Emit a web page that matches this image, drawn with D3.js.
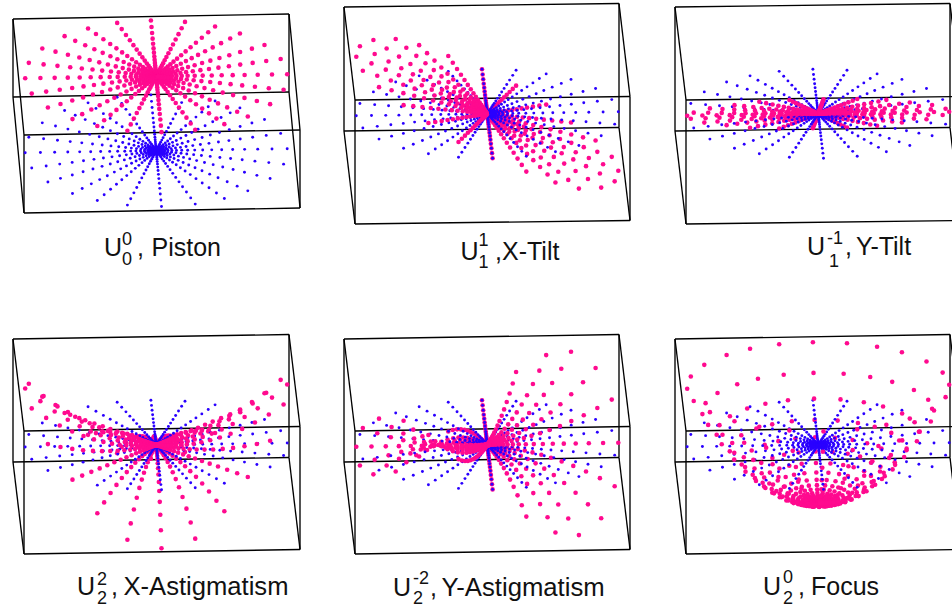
<!DOCTYPE html>
<html>
<head>
<meta charset="utf-8">
<script src="https://d3js.org/d3.v7.min.js"></script>
<style>
html, body { margin: 0; padding: 0; background: #fff; }
svg { display: block; }
text { font-family: "Liberation Sans", Arial, sans-serif; fill: #111; }
</style>
</head>
<body>
<div id="chart"></div>
<script>
// spokes of the polar grid, degrees from +x, as measured off the blue dots
var spokeAngles = [0, 16, 32, 48, 61, 75, 90, 105, 119, 132, 148, 164, 180, 196, 212, 228, 241, 255, 270, 285, 299, 312, 328, 344];
// ring radii, as measured along the horizontal spoke
var ringRadii = [1, 0.884, 0.775, 0.675, 0.584, 0.5, 0.424, 0.355, 0.294, 0.24, 0.195, 0.155, 0.12, 0.09, 0.065, 0.045, 0.03, 0.015];

// height of the pink dot at the rim of each spoke, read per panel
var rimPiston = [1, 1, 1, 1, 1, 1, 1, 1, 1, 1, 1, 1, 1, 1, 1, 1, 1, 1, 1, 1, 1, 1, 1, 1];
var rimXTilt = [-1, -0.97, -0.88, -0.73, -0.52, -0.26, 0, 0.26, 0.52, 0.73, 0.88, 0.97, 1, 0.97, 0.88, 0.73, 0.52, 0.26, 0, -0.26, -0.52, -0.73, -0.88, -0.97];
var rimYTilt = [0, -0.26, -0.52, -0.73, -0.88, -0.97, -1, -0.97, -0.88, -0.73, -0.52, -0.26, 0, 0.26, 0.52, 0.73, 0.88, 0.97, 1, 0.97, 0.88, 0.73, 0.52, 0.26];
var rimXAstig = [1, 0.87, 0.45, 0, -0.48, -0.87, -1, -0.87, -0.48, 0, 0.45, 0.87, 1, 0.87, 0.45, 0, -0.48, -0.87, -1, -0.87, -0.48, 0, 0.45, 0.87];
var rimYAstig = [0, 0.53, 0.88, 1, 0.85, 0.5, 0, -0.5, -0.85, -1, -0.88, -0.53, 0, 0.53, 0.88, 1, 0.85, 0.5, 0, -0.5, -0.85, -1, -0.88, -0.53];
var rimFocus = [1, 1, 1, 1, 1, 1, 1, 1, 1, 1, 1, 1, 1, 1, 1, 1, 1, 1, 1, 1, 1, 1, 1, 1];

// share of the rim height left at each ring, read along single spokes
var ringPiston = [1, 1, 1, 1, 1, 1, 1, 1, 1, 1, 1, 1, 1, 1, 1, 1, 1, 1];
var ringTilt = [1, 0.884, 0.775, 0.675, 0.584, 0.5, 0.424, 0.355, 0.294, 0.24, 0.195, 0.155, 0.12, 0.09, 0.065, 0.045, 0.03, 0.015];
var ringAstig = [1, 0.78, 0.6, 0.455, 0.34, 0.25, 0.18, 0.126, 0.086, 0.058, 0.038, 0.024, 0.014, 0.008, 0.004, 0.002, 0.001, 0];
var ringFocus = [1, 0.56, 0.2, -0.09, -0.32, -0.5, -0.64, -0.75, -0.83, -0.88, -0.92, -0.95, -0.97, -0.98, -0.99, -1, -1, -1];

// label pieces
var labelSup = ["0", "1", "-1", "2", "-2", "0"];
var labelSub = ["0", "1", "1", "2", "2", "2"];
var labelName = ["Piston", "X-Tilt", "Y-Tilt", "X-Astigmatism", "Y-Astigmatism", "Focus"];

var width = 952, height = 607;
var pink = "#ff0a8f", blue = "#2a00ff";

// layout per panel: box, grid centre, label anchors
var panels = [
	{rim: rimPiston, ring: ringPiston, cx: 156.2, cy: 150.7, yr: 55.8, zDomain: [0, 1], zr: [0, -74.4],
		box: {x: 13, y: 19, w: 276, rise: 5, h: 78, dx: 11, dy: 116}, nameSize: 25,
		u: [104, 256], sup: [122, 245], sub: [122, 265], comma: [137, 256], name: [151.5, 256]},
	{rim: rimXTilt, ring: ringTilt, cx: 487.3, cy: 113.8, yr: 44.5, zDomain: [-1, 1], zr: [59, -59],
		box: {x: 344, y: 7, w: 275, rise: 3.5, h: 124, dx: 11, dy: 93}, nameSize: 25,
		u: [460.5, 260], sup: [478.5, 246], sub: [478.5, 268], comma: [495, 260], name: [502, 260]},
	{rim: rimYTilt, ring: ringTilt, cx: 818.2, cy: 113.8, yr: 44.5, zDomain: [-1, 1], zr: [59, -59],
		box: {x: 675, y: 7, w: 275, rise: 3.5, h: 124, dx: 11, dy: 93}, nameSize: 25,
		u: [807, 255], sup: [827, 244], sub: [829, 267], comma: [845, 255], name: [856, 255]},
	{rim: rimXAstig, ring: ringAstig, cx: 156.2, cy: 445, yr: 44.8, zDomain: [-1, 1], zr: [58.5, -58.5],
		box: {x: 13, y: 339, w: 276, rise: 4.5, h: 123, dx: 11, dy: 92}, nameSize: 25.6,
		u: [77, 595], sup: [97, 585], sub: [97, 604], comma: [111, 595], name: [123.5, 595]},
	{rim: rimYAstig, ring: ringAstig, cx: 487.3, cy: 444.8, yr: 44.6, zDomain: [-1, 1], zr: [58.5, -58.5],
		box: {x: 344, y: 339, w: 275, rise: 4.5, h: 123, dx: 11, dy: 92}, nameSize: 25.7,
		u: [393, 596], sup: [413, 584], sub: [413, 604], comma: [430, 596], name: [441.5, 596]},
	{rim: rimFocus, ring: ringFocus, cx: 818.2, cy: 444.8, yr: 44.6, zDomain: [-1, 1], zr: [58, -58],
		box: {x: 675, y: 339, w: 275, rise: 4.5, h: 123, dx: 11, dy: 92}, nameSize: 25,
		u: [763, 595], sup: [783, 583], sub: [783, 604], comma: [798, 595], name: [811, 595]}
];

var svg = d3.select("#chart").append("svg")
	.attr("width", width)
	.attr("height", height);

panels.forEach(function(p, i){
	var g = svg.append("g").attr("class", "panel");

	// surface coordinates to screen offsets
	var xScale = d3.scaleLinear().domain([-1, 1]).range([-131, 131]);
	var yScale = d3.scaleLinear().domain([-1, 1]).range([p.yr, -p.yr]);
	var xFromY = d3.scaleLinear().domain([-1, 1]).range([5.3, -5.3]); // the plane leans
	var yFromX = d3.scaleLinear().domain([-1, 1]).range([2, -2]);
	var zScale = d3.scaleLinear().domain(p.zDomain).range(p.zr);

	var flat = [], surface = [];
	spokeAngles.forEach(function(deg, s){
		var a = deg * Math.PI / 180;
		ringRadii.forEach(function(r, k){
			var px = r * Math.cos(a), py = r * Math.sin(a);
			flat.push({x: px, y: py, z: null});
			surface.push({x: px, y: py, z: p.rim[s] * p.ring[k]});
		});
	});

	function sx(d){ return p.cx + xScale(d.x) + xFromY(d.y); }
	function sy(d){ return p.cy + yScale(d.y) + yFromX(d.x) + (d.z === null ? 0 : zScale(d.z)); }

	// box edges
	var b = p.box;
	var back = [[b.x, b.y], [b.x + b.w, b.y - b.rise], [b.x + b.w, b.y - b.rise + b.h], [b.x, b.y + b.h]];
	var front = back.map(function(c){ return [c[0] + b.dx, c[1] + b.dy]; });
	var edges = [
		[back[0], back[1]], [back[3], back[2]], [front[0], front[1]], [front[3], front[2]],
		[back[0], back[3]], [back[1], back[2]], [front[0], front[3]], [front[1], front[2]],
		[back[0], front[0]], [back[1], front[1]], [back[3], front[3]], [back[2], front[2]]
	];
	g.selectAll("line.edge").data(edges).enter().append("line")
		.attr("class", "edge")
		.attr("x1", function(d){ return d[0][0]; })
		.attr("y1", function(d){ return d[0][1]; })
		.attr("x2", function(d){ return d[1][0]; })
		.attr("y2", function(d){ return d[1][1]; })
		.attr("stroke", "#000")
		.attr("stroke-width", 1.35);

	// below-plane dots first, then the plane, then everything above it
	// of the spokes lying in the plane only the upright one sits under the blue
	function isOver(d){ return d.z > 0 || (d.z === 0 && Math.abs(d.x) > 0.001); }
	function dots(data, cls, color, rad){
		g.selectAll("circle." + cls).data(data).enter().append("circle")
			.attr("class", cls)
			.attr("cx", sx)
			.attr("cy", sy)
			.attr("r", rad)
			.attr("fill", color);
	}
	dots(surface.filter(function(d){ return !isOver(d); }), "under", pink, 2.3);
	dots(flat, "plane", blue, 1.45);
	dots(surface.filter(isOver), "over", pink, 2.3);

	// label
	function put(pos, txt, size){
		g.append("text").attr("x", pos[0]).attr("y", pos[1]).attr("font-size", size).text(txt);
	}
	put(p.u, "U", 25);
	put(p.sup, labelSup[i], 18);
	put(p.sub, labelSub[i], 18);
	put(p.comma, ",", 25);
	put(p.name, labelName[i], p.nameSize);
});
</script>
</body>
</html>
